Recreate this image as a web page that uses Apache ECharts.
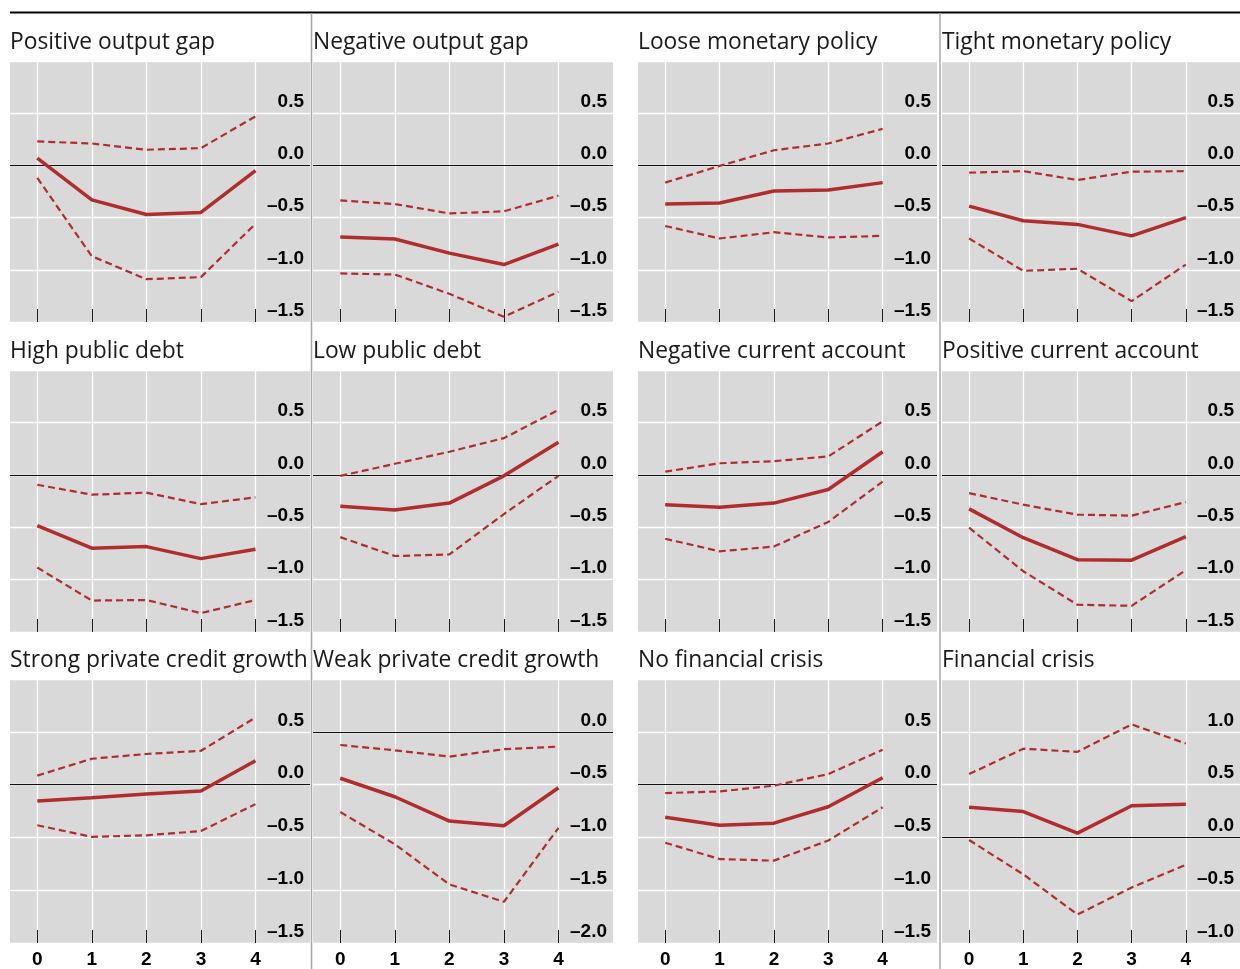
<!DOCTYPE html>
<html><head><meta charset="utf-8">
<script src="https://cdn.jsdelivr.net/npm/echarts@6/dist/echarts.min.js"></script>
<style>html,body{margin:0;padding:0;background:#fff}#c{width:1240px;height:969px}</style>
</head><body><div id="c"></div>
<script>
// ---- data ----
const horizons = [0, 1, 2, 3, 4];
const xTickLabels = ['0', '1', '2', '3', '4'];
const panelTitles = [
  'Positive output gap', 'Negative output gap', 'Loose monetary policy', 'Tight monetary policy',
  'High public debt', 'Low public debt', 'Negative current account', 'Positive current account',
  'Strong private credit growth', 'Weak private credit growth', 'No financial crisis', 'Financial crisis'
];
const yMins = [-1.5, -1.5, -1.5, -1.5, -1.5, -1.5, -1.5, -1.5, -1.5, -2.0, -1.5, -1.0];
const yMaxs = [1.0, 1.0, 1.0, 1.0, 1.0, 1.0, 1.0, 1.0, 1.0, 0.5, 1.0, 1.5];
const yStep = 0.5;

const posGapCentral = [0.07, -0.33, -0.47, -0.45, -0.05];
const posGapUpper   = [0.23, 0.21, 0.15, 0.165, 0.47];
const posGapLower   = [-0.12, -0.87, -1.09, -1.07, -0.56];

const negGapCentral = [-0.685, -0.705, -0.84, -0.95, -0.755];
const negGapUpper   = [-0.335, -0.37, -0.46, -0.44, -0.29];
const negGapLower   = [-1.035, -1.045, -1.23, -1.45, -1.21];

const looseMpCentral = [-0.37, -0.36, -0.245, -0.235, -0.165];
const looseMpUpper   = [-0.165, -0.005, 0.145, 0.21, 0.35];
const looseMpLower   = [-0.58, -0.70, -0.64, -0.69, -0.675];

const tightMpCentral = [-0.39, -0.53, -0.565, -0.675, -0.50];
const tightMpUpper   = [-0.07, -0.055, -0.14, -0.06, -0.055];
const tightMpLower   = [-0.70, -1.01, -0.99, -1.30, -0.95];

const highDebtCentral = [-0.485, -0.70, -0.685, -0.80, -0.71];
const highDebtUpper   = [-0.095, -0.19, -0.17, -0.28, -0.215];
const highDebtLower   = [-0.885, -1.20, -1.195, -1.32, -1.195];

const lowDebtCentral = [-0.30, -0.335, -0.27, -0.01, 0.31];
const lowDebtUpper   = [-0.01, 0.105, 0.22, 0.35, 0.62];
const lowDebtLower   = [-0.595, -0.775, -0.76, -0.375, -0.01];

const negCaCentral = [-0.285, -0.31, -0.27, -0.14, 0.22];
const negCaUpper   = [0.03, 0.11, 0.13, 0.175, 0.51];
const negCaLower   = [-0.61, -0.73, -0.685, -0.45, -0.065];

const posCaCentral = [-0.325, -0.60, -0.81, -0.815, -0.59];
const posCaUpper   = [-0.175, -0.285, -0.38, -0.39, -0.26];
const posCaLower   = [-0.505, -0.92, -1.24, -1.25, -0.91];

const strongCreditCentral = [-0.155, -0.125, -0.09, -0.06, 0.225];
const strongCreditUpper   = [0.085, 0.245, 0.29, 0.32, 0.635];
const strongCreditLower   = [-0.385, -0.495, -0.48, -0.44, -0.185];

const weakCreditCentral = [-0.44, -0.615, -0.845, -0.89, -0.53];
const weakCreditUpper   = [-0.125, -0.175, -0.235, -0.165, -0.14];
const weakCreditLower   = [-0.76, -1.065, -1.445, -1.61, -0.91];

const noCrisisCentral = [-0.31, -0.385, -0.365, -0.21, 0.065];
const noCrisisUpper   = [-0.08, -0.065, -0.01, 0.10, 0.33];
const noCrisisLower   = [-0.55, -0.705, -0.72, -0.53, -0.215];

const crisisCentral = [0.285, 0.245, 0.04, 0.30, 0.315];
const crisisUpper   = [0.60, 0.84, 0.81, 1.07, 0.89];
const crisisLower   = [-0.025, -0.35, -0.73, -0.475, -0.26];

const centrals = [posGapCentral, negGapCentral, looseMpCentral, tightMpCentral, highDebtCentral, lowDebtCentral,
  negCaCentral, posCaCentral, strongCreditCentral, weakCreditCentral, noCrisisCentral, crisisCentral];
const uppers = [posGapUpper, negGapUpper, looseMpUpper, tightMpUpper, highDebtUpper, lowDebtUpper,
  negCaUpper, posCaUpper, strongCreditUpper, weakCreditUpper, noCrisisUpper, crisisUpper];
const lowers = [posGapLower, negGapLower, looseMpLower, tightMpLower, highDebtLower, lowDebtLower,
  negCaLower, posCaLower, strongCreditLower, weakCreditLower, noCrisisLower, crisisLower];

// ---- layout ----
const colLefts = [10, 313, 638, 942];
const colWidths = [300, 300, 299, 298];
const rowTops = [61, 370, 679];
const rowHeights = [261, 262, 264];
const RED = '#b12d2d';
const labelFont = { fontFamily: 'Liberation Sans, Arial, sans-serif', fontWeight: 'bold', fontSize: 19, color: '#000' };

const grids = [], xAxes = [], yAxes = [], series = [], titles = [];
panelTitles.forEach((t, i) => {
  const r = Math.floor(i / 4), c = i % 4;
  grids.push({ left: colLefts[c], top: rowTops[r], width: colWidths[c], height: rowHeights[r],
    show: true, backgroundColor: '#d9d9d9', borderWidth: 0, containLabel: false });
  titles.push({ text: t, left: colLefts[c], top: rowTops[r] - 29.5, padding: 0,
    textStyle: { fontFamily: 'Open Sans, sans-serif', fontWeight: 'normal', fontSize: 22.8, color: '#1a1a1a' } });
  xAxes.push({
    gridIndex: i, type: 'value', min: -0.5, max: 5,
    axisLine: { show: false, onZero: false },
    axisTick: { show: true, inside: true, length: 13, customValues: horizons, lineStyle: { color: '#1a1a1a', width: 1 } },
    axisLabel: Object.assign({ show: r === 2, customValues: horizons, margin: 7,
      formatter: v => { const k = horizons.indexOf(v); return k >= 0 ? xTickLabels[k] : ''; } }, labelFont),
    splitLine: { show: true, lineStyle: { color: '#ffffff', width: 1.3 } }
  });
  yAxes.push({
    gridIndex: i, type: 'value', position: 'right', min: yMins[i], max: yMaxs[i], interval: yStep,
    axisLine: { show: false }, axisTick: { show: false },
    axisLabel: Object.assign({ inside: true, margin: 6, showMaxLabel: false, showMinLabel: true,
      verticalAlign: 'bottom', padding: [0, 0, 2, 0],
      formatter: v => (Math.round(v * 10) / 10).toFixed(1).replace('-', '\u2013') }, labelFont),
    splitLine: { show: true, lineStyle: { color: '#ffffff', width: 1.3 } }
  });
  const mk = arr => horizons.map((h, k) => [h, arr[k]]);
  series.push({ type: 'line', xAxisIndex: i, yAxisIndex: i, data: mk(uppers[i]), symbol: 'none', silent: true,
    lineStyle: { color: RED, width: 2.2, type: [7, 4] }, z: 3 });
  series.push({ type: 'line', xAxisIndex: i, yAxisIndex: i, data: mk(lowers[i]), symbol: 'none', silent: true,
    lineStyle: { color: RED, width: 2.2, type: [7, 4] }, z: 3 });
  series.push({ type: 'line', xAxisIndex: i, yAxisIndex: i, data: mk(centrals[i]), symbol: 'none', silent: true,
    lineStyle: { color: RED, width: 3.5, type: 'solid' }, z: 4,
    markLine: { silent: true, z: 1, symbol: ['none', 'none'], label: { show: false }, animation: false,
      lineStyle: { color: '#111', width: 1, type: 'solid' }, data: [{ yAxis: 0 }] } });
});

const chart = echarts.init(document.getElementById('c'), null, { renderer: 'canvas' });
chart.setOption({
  animation: false,
  backgroundColor: '#ffffff',
  title: titles,
  grid: grids, xAxis: xAxes, yAxis: yAxes, series: series,
  graphic: [
    { type: 'line', z: 100, shape: { x1: 10, y1: 12.5, x2: 1240, y2: 12.5 }, style: { stroke: '#000', lineWidth: 2 } },
    { type: 'line', z: 100, shape: { x1: 311.5, y1: 13, x2: 311.5, y2: 969 }, style: { stroke: '#a8a8a8', lineWidth: 1.5 } },
    { type: 'line', z: 100, shape: { x1: 940, y1: 13, x2: 940, y2: 969 }, style: { stroke: '#a8a8a8', lineWidth: 1.5 } }
  ]
});
</script></body></html>
